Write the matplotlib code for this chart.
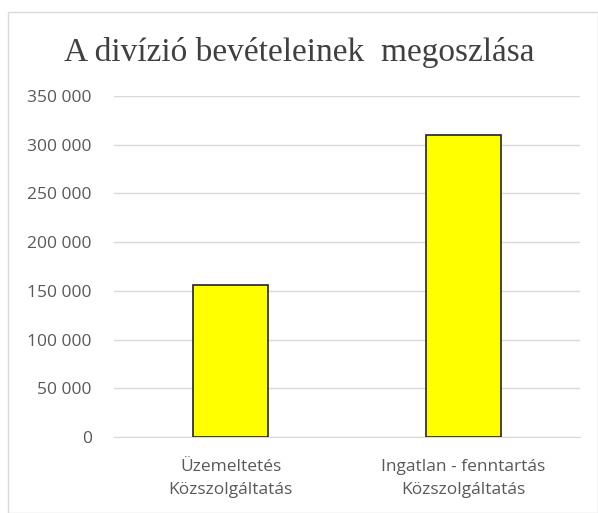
import matplotlib
matplotlib.use("Agg")
import matplotlib.pyplot as plt
from matplotlib.patches import Rectangle
from matplotlib.ticker import FuncFormatter

categories = ["Üzemeltetés\nKözszolgáltatás", "Ingatlan - fenntartás\nKözszolgáltatás"]
values = [156000, 310000]
yticks = [0, 50000, 100000, 150000, 200000, 250000, 300000, 350000]

fig = plt.figure(figsize=(5.98, 5.13), dpi=100)
W, H = 598, 513
ax = fig.add_axes([114 / W, 1 - 437 / H, (580 - 114) / W, (437 - 96) / H])

x = list(range(len(categories)))
ax.bar(x, values, width=0.32, color="#FFFF00", edgecolor="#222222", linewidth=1.2, zorder=3)
ax.set_xlim(-0.5, 1.5)
ax.set_ylim(0, 350000)
ax.set_yticks(yticks)
ax.yaxis.set_major_formatter(FuncFormatter(lambda v, p: f"{int(v):,}".replace(",", " ")))
ax.set_xticks(x)
ax.set_xticklabels(categories, linespacing=1.55)
ax.grid(axis="y", color="#d9d9d9", linewidth=1, zorder=0)
for s in ["top", "right", "left"]:
    ax.spines[s].set_visible(False)
ax.spines["bottom"].set_color("#d9d9d9")
ax.tick_params(axis="both", length=0, labelsize=12.5, colors="#595959")
ax.tick_params(axis="y", pad=16)
ax.tick_params(axis="x", pad=16)
for lbl in ax.get_xticklabels() + ax.get_yticklabels():
    lbl.set_fontfamily("Open Sans")

fig.text(0.5, 1 - 53 / H, "A divízió bevételeinek  megoszlása", ha="center", va="center",
         fontsize=24, family="Liberation Serif", color="#404040")

fig.patches.append(Rectangle((8 / W, 0), (W - 8) / W, 1 - 12 / H, transform=fig.transFigure,
                             fill=False, edgecolor="#d9d9d9", linewidth=1))

fig.savefig("out.png", dpi=100)
